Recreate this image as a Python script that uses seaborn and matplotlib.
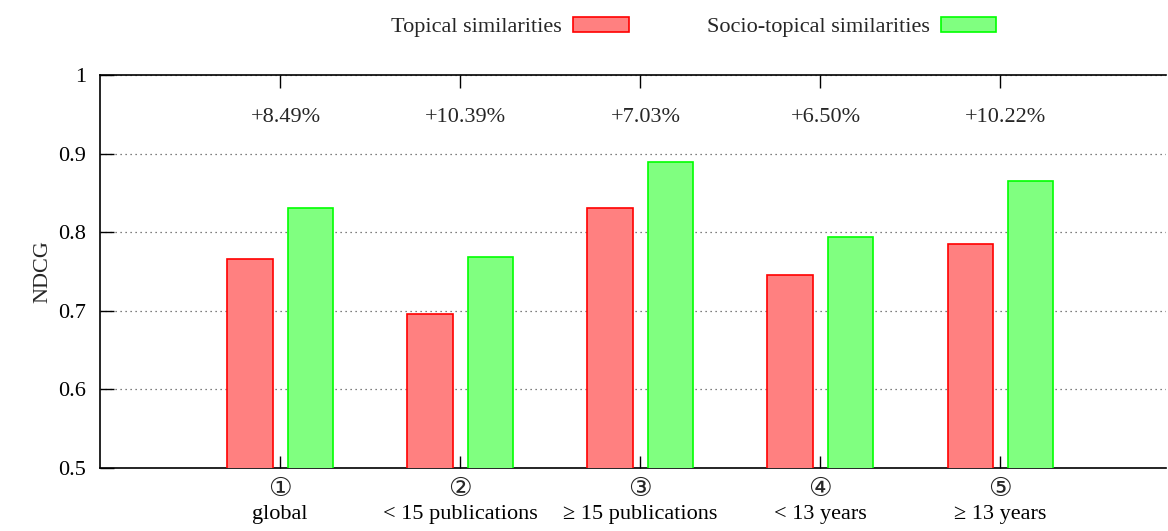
import matplotlib
matplotlib.use("Agg")
import matplotlib.pyplot as plt
import matplotlib.transforms as mtransforms
from matplotlib.patches import Patch
import seaborn as sns
import pandas as pd

categories = ["global", "< 15 publications", "≥ 15 publications", "< 13 years", "≥ 13 years"]
markers = ["①", "②", "③", "④", "⑤"]
series_names = ["Topical similarities", "Socio-topical similarities"]
topical = [0.766, 0.696, 0.831, 0.746, 0.785]
socio = [0.831, 0.768, 0.889, 0.794, 0.865]
gains = ["+8.49%", "+10.39%", "+7.03%", "+6.50%", "+10.22%"]
yticks = [0.5, 0.6, 0.7, 0.8, 0.9, 1.0]
ytick_labels = ["0.5", "0.6", "0.7", "0.8", "0.9", "1"]

fills = ["#ff8080", "#80ff80"]
edges = ["#ff0000", "#00ff00"]

df = pd.DataFrame({
    "cat": categories * 2,
    "series": [series_names[0]] * 5 + [series_names[1]] * 5,
    "value": topical + socio,
})

sns.set_style("white")
plt.rcParams["font.family"] = ["Liberation Serif", "DejaVu Sans"]

FS = 16

fig = plt.figure(figsize=(11.68, 5.31), dpi=100)
ax = fig.add_axes([100 / 1168, 1 - 468 / 531, 1066 / 1168, 393 / 531])

sns.barplot(data=df, x="cat", y="value", hue="series", order=categories,
            hue_order=series_names, palette=fills, width=0.67, gap=0.25,
            legend=False, ax=ax, zorder=3, saturation=1)

for i, cont in enumerate(ax.containers):
    for p in cont:
        p.set_edgecolor(edges[i])
        p.set_linewidth(1.2)

ax.set_ylim(0.5, 1.0)
ax.set_xlim(-1, 4.92)
ax.set_yticks(yticks)
ax.set_yticklabels(ytick_labels, fontsize=FS)
ax.set_xticks(range(len(categories)))
ax.set_xticklabels(categories, fontsize=FS)
ax.set_xlabel("")
ax.set_ylabel("NDCG", fontsize=FS, labelpad=4)

for s in ["left", "top", "bottom"]:
    ax.spines[s].set_visible(True)
    ax.spines[s].set_color("black")
    ax.spines[s].set_linewidth(1.2)
ax.spines["right"].set_visible(False)

ax.yaxis.grid(True, linestyle=(0, (1, 3)), color="#555555", linewidth=0.9, zorder=0)
ax.xaxis.grid(False)
ax.set_axisbelow(True)

ax.tick_params(axis="y", direction="in", length=10, width=1, left=True, pad=10, colors="black")
ax.tick_params(axis="x", direction="in", length=9, width=1, bottom=True, top=True, pad=27, colors="black")

trans = mtransforms.blended_transform_factory(ax.transData, ax.transAxes)
for i, m in enumerate(markers):
    ax.text(i, -22 / 393, m, transform=trans, ha="center", va="center",
            fontsize=19, family=["Liberation Serif", "DejaVu Sans"])

for i, g in enumerate(gains):
    ax.text(i + 0.03, 0.946, g, ha="center", va="center", fontsize=FS)

handles = [Patch(facecolor=fills[k], edgecolor=edges[k], linewidth=1.2, label=series_names[k]) for k in range(2)]
fig.legend(handles=handles, loc="center", bbox_to_anchor=(0.594, 1 - 27 / 531), ncol=2,
           frameon=False, markerfirst=False, fontsize=FS, handlelength=2.5, handleheight=0.65,
           columnspacing=3.5, handletextpad=0.5)

fig.savefig("out.png", dpi=100)
